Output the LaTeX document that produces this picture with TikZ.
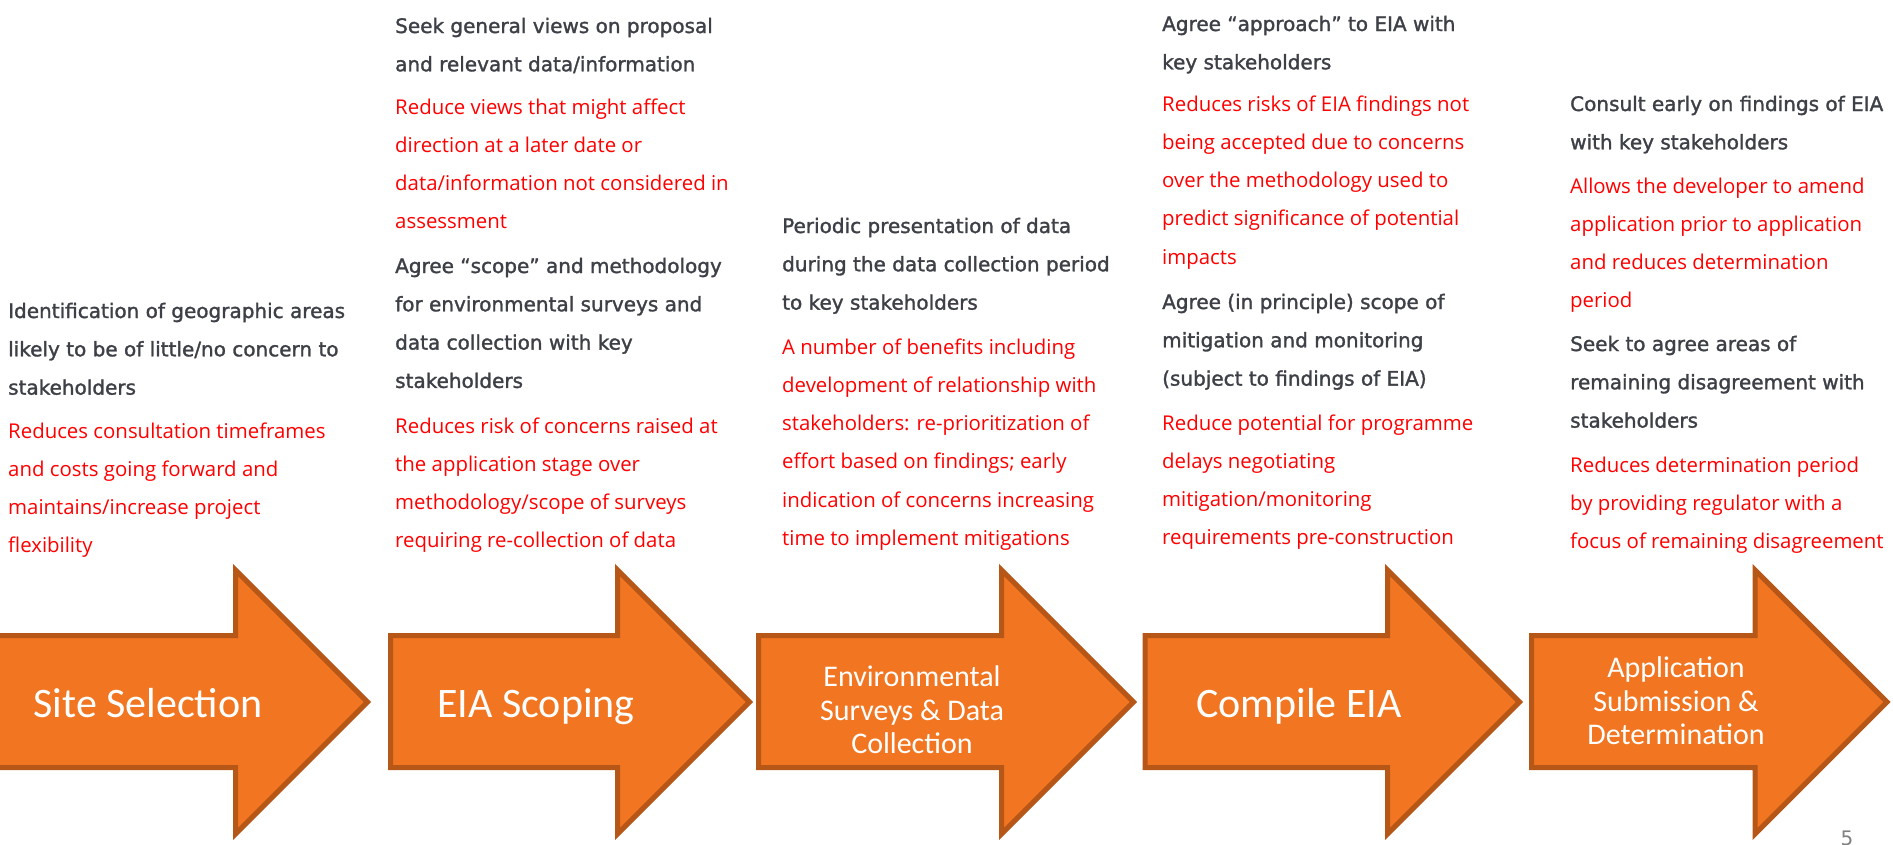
\documentclass[tikz,border=0pt]{standalone}
\usepackage{fontspec}
\usepackage{xcolor}
\usepackage{tikz}
\setmainfont{DejaVu Sans}
\newfontfamily\taskfont{DejaVu Sans}[FakeBold=1.5]
\newfontfamily\gainfont{Open Sans}
\newfontfamily\stagefont{Carlito}
\definecolor{arrowfill}{HTML}{F27622}
\definecolor{arrowedge}{HTML}{B65617}
\definecolor{taskgrey}{HTML}{3D4046}
\definecolor{gainred}{HTML}{FF0000}
\definecolor{pagegrey}{HTML}{808080}

\begin{document}
\begin{tikzpicture}[x=1pt, y=-1pt,
		stagearrow/.style={line width=5pt, draw=arrowedge, fill=arrowfill, line join=miter},
		stagelabel/.style={text=white, align=center, inner sep=0pt, font=\stagefont\fontsize{42}{46}\selectfont},
		task/.style={text=taskgrey, align=left, anchor=base west, inner sep=0pt, font=\taskfont\fontsize{20}{38.3}\selectfont},
		gain/.style={text=gainred, align=left, anchor=base west, inner sep=0pt, font=\gainfont\fontsize{20.4}{38.3}\selectfont}]
			\useasboundingbox (0,0) rectangle (1893,844);
			\clip (0,0) rectangle (1893,844);
			%   %   %   %   %   %   %   %   %   %   %
			%   Site selection (text nodes sit on the baseline of their last line)
				\draw[stagearrow] (-10,635.5) -- (235.5,635.5) -- (235.5,570) -- (367.5,702) -- (235.5,834) -- (235.5,767.5) -- (-10,767.5) -- cycle;
				\draw (148,717) node[stagelabel, anchor=base] (site) {Site Selection};
				\draw (8,394.6) node[task] (siteTask)
				{Identification of geographic areas\\likely to be of little/no concern to\\stakeholders};
				\draw (8,552.9) node[gain] (siteGain)
				{Reduces consultation timeframes\\and costs going forward and\\maintains/increase project\\flexibility};
			%   %   %   %   %   %   %   %   %   %   %
			%   EIA scoping
				\draw[stagearrow] (390.5,635.5) -- (617.5,635.5) -- (617.5,570) -- (749.5,702) -- (617.5,834) -- (617.5,767.5) -- (390.5,767.5) -- cycle;
				\draw (536,717) node[stagelabel, anchor=base] (scoping) {EIA Scoping};
				\draw (395,71.3) node[task] (scopingTaskA)
				{Seek general views on proposal\\and relevant data/information};
				\draw (395,228.9) node[gain] (scopingGainA)
				{Reduce views that might affect\\direction at a later date or\\data/information not considered in\\assessment};
				\draw (395,387.9) node[task] (scopingTaskB)
				{Agree “scope” and methodology\\for environmental surveys and\\data collection with key\\stakeholders};
				\draw (395,547.9) node[gain] (scopingGainB)
				{Reduces risk of concerns raised at\\the application stage over\\methodology/scope of surveys\\requiring re-collection of data};
			%   %   %   %   %   %   %   %   %   %   %
			%   Surveys and data collection
				\draw[stagearrow] (758.5,635.5) -- (1001.5,635.5) -- (1001.5,570) -- (1133.5,702) -- (1001.5,834) -- (1001.5,767.5) -- (758.5,767.5) -- cycle;
				\draw (912,710) node[stagelabel, font=\stagefont\fontsize{30}{33.5}\selectfont] (surveys)
				{Environmental\\Surveys \& Data\\Collection};
				\draw (782,309.6) node[task] (surveysTask)
				{Periodic presentation of data\\during the data collection period\\to key stakeholders};
				\draw (782,545.5) node[gain] (surveysGain)
				{A number of benefits including\\development of relationship with\\stakeholders: re-prioritization of\\effort based on findings; early\\indication of concerns increasing\\time to implement mitigations};
			%   %   %   %   %   %   %   %   %   %   %
			%   Compile EIA
				\draw[stagearrow] (1145,635.5) -- (1387.5,635.5) -- (1387.5,570) -- (1519.5,702) -- (1387.5,834) -- (1387.5,767.5) -- (1145,767.5) -- cycle;
				\draw (1299,717) node[stagelabel, anchor=base] (compile) {Compile EIA};
				\draw (1162,69.3) node[task] (compileTaskA)
				{Agree “approach” to EIA with\\key stakeholders};
				\draw (1162,264.2) node[gain] (compileGainA)
				{Reduces risks of EIA findings not\\being accepted due to concerns\\over the methodology used to\\predict significance of potential\\impacts};
				\draw (1162,385.6) node[task] (compileTaskB)
				{Agree (in principle) scope of\\mitigation and monitoring\\(subject to findings of EIA)};
				\draw (1162,544.9) node[gain] (compileGainB)
				{Reduce potential for programme\\delays negotiating\\mitigation/monitoring\\requirements pre-construction};
			%   %   %   %   %   %   %   %   %   %   %
			%   Submission and determination
				\draw[stagearrow] (1531.5,635.5) -- (1755,635.5) -- (1755,570) -- (1887,702) -- (1755,834) -- (1755,767.5) -- (1531.5,767.5) -- cycle;
				\draw (1676,701) node[stagelabel, font=\stagefont\fontsize{30}{33.5}\selectfont] (submission)
				{Application\\Submission \&\\Determination};
				\draw (1570,149.3) node[task] (submissionTaskA)
				{Consult early on findings of EIA\\with key stakeholders};
				\draw (1570,307.9) node[gain] (submissionGainA)
				{Allows the developer to amend\\application prior to application\\and reduces determination\\period};
				\draw (1570,427.6) node[task] (submissionTaskB)
				{Seek to agree areas of\\remaining disagreement with\\stakeholders};
				\draw (1570,548.6) node[gain] (submissionGainB)
				{Reduces determination period\\by providing regulator with a\\focus of remaining disagreement};
			%   %   %   %   %   %   %   %   %   %   %
			%   Page number
				\draw (1847,831) node[anchor=north, inner sep=0pt, text=pagegrey, font=\fontsize{20}{24}\selectfont] (pageNo) {5};
\end{tikzpicture}
\end{document}
